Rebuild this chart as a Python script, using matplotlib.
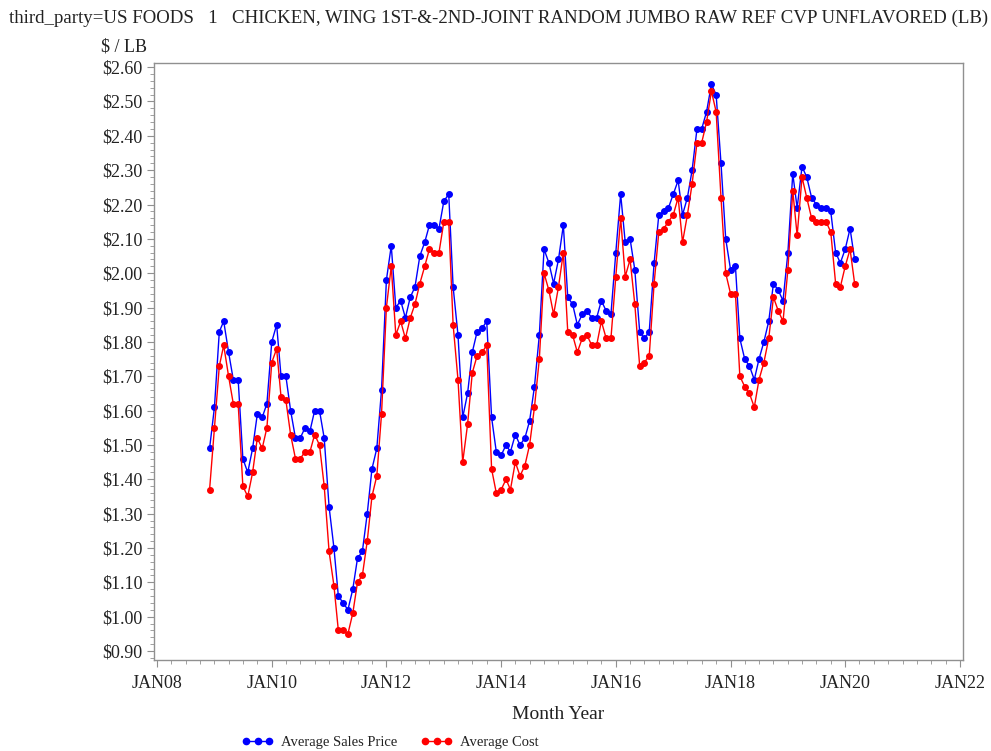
import numpy as np
import pandas as pd
import matplotlib
matplotlib.use('Agg')
import matplotlib.pyplot as plt
import matplotlib.dates as mdates
from matplotlib.ticker import FuncFormatter, MultipleLocator
from matplotlib.lines import Line2D

# monthly data, Dec 2008 - Mar 2020
months = pd.date_range('2008-12-01', '2020-03-01', freq='MS')

sales_price = [
    1.49,
    1.61, 1.83, 1.86, 1.77, 1.69, 1.69, 1.46, 1.42, 1.49, 1.59, 1.58, 1.62,
    1.80, 1.85, 1.70, 1.70, 1.60, 1.52, 1.52, 1.55, 1.54, 1.60, 1.60, 1.52,
    1.32, 1.20, 1.06, 1.04, 1.02, 1.08, 1.17, 1.19, 1.30, 1.43, 1.49, 1.66,
    1.98, 2.08, 1.90, 1.92, 1.87, 1.93, 1.96, 2.05, 2.09, 2.14, 2.14, 2.13,
    2.21, 2.23, 1.96, 1.82, 1.58, 1.65, 1.77, 1.83, 1.84, 1.86, 1.58, 1.48,
    1.47, 1.50, 1.48, 1.53, 1.50, 1.52, 1.57, 1.67, 1.82, 2.07, 2.03, 1.97,
    2.04, 2.14, 1.93, 1.91, 1.85, 1.88, 1.89, 1.87, 1.87, 1.92, 1.89, 1.88,
    2.06, 2.23, 2.09, 2.10, 2.01, 1.83, 1.81, 1.83, 2.03, 2.17, 2.18, 2.19,
    2.23, 2.27, 2.17, 2.22, 2.30, 2.42, 2.42, 2.47, 2.55, 2.52, 2.32, 2.10,
    2.01, 2.02, 1.81, 1.75, 1.73, 1.69, 1.75, 1.80, 1.86, 1.97, 1.95, 1.92,
    2.06, 2.29, 2.19, 2.31, 2.28, 2.22, 2.20, 2.19, 2.19, 2.18, 2.06, 2.03,
    2.07, 2.13, 2.04,
]

avg_cost = [
    1.37,
    1.55, 1.73, 1.79, 1.70, 1.62, 1.62, 1.38, 1.35, 1.42, 1.52, 1.49, 1.55,
    1.74, 1.78, 1.64, 1.63, 1.53, 1.46, 1.46, 1.48, 1.48, 1.53, 1.50, 1.38,
    1.19, 1.09, 0.96, 0.96, 0.95, 1.01, 1.10, 1.12, 1.22, 1.35, 1.41, 1.59,
    1.90, 2.02, 1.82, 1.86, 1.81, 1.87, 1.91, 1.97, 2.02, 2.07, 2.06, 2.06,
    2.15, 2.15, 1.85, 1.69, 1.45, 1.56, 1.71, 1.76, 1.77, 1.79, 1.43, 1.36,
    1.37, 1.40, 1.37, 1.45, 1.41, 1.44, 1.50, 1.61, 1.75, 2.00, 1.95, 1.88,
    1.96, 2.06, 1.83, 1.82, 1.77, 1.81, 1.82, 1.79, 1.79, 1.86, 1.81, 1.81,
    1.99, 2.16, 1.99, 2.04, 1.91, 1.73, 1.74, 1.76, 1.97, 2.12, 2.13, 2.15,
    2.17, 2.22, 2.09, 2.17, 2.26, 2.38, 2.38, 2.44, 2.53, 2.47, 2.22, 2.00,
    1.94, 1.94, 1.70, 1.67, 1.65, 1.61, 1.69, 1.74, 1.81, 1.93, 1.89, 1.86,
    2.01, 2.24, 2.11, 2.28, 2.22, 2.16, 2.15, 2.15, 2.15, 2.12, 1.97, 1.96,
    2.02, 2.07, 1.97,
]

title_text = ('third_party=US FOODS   1   CHICKEN, WING 1ST-&-2ND-JOINT RANDOM '
              'JUMBO RAW REF CVP UNFLAVORED (LB)')

plt.rcParams['font.family'] = ['Liberation Serif', 'DejaVu Serif']

blue = '#0000ff'
red = '#ff0000'

fig = plt.figure(figsize=(9.91, 7.51), dpi=100)
ax = fig.add_axes([0.1554, 0.1212, 0.8160, 0.7949])

ax.plot(months, sales_price, '-o', color=blue, lw=1, ms=4, mec=blue)
ax.plot(months, avg_cost, '-o', color=red, lw=1, ms=4, mec=red)

ax.set_xlim(pd.Timestamp('2007-12-13'), pd.Timestamp('2022-01-18'))
ax.set_ylim(0.874, 2.612)

ax.xaxis.set_major_locator(mdates.YearLocator(2))
ax.xaxis.set_major_formatter(FuncFormatter(
    lambda x, pos: mdates.num2date(x).strftime('%b%y').upper()))
ax.xaxis.set_minor_locator(mdates.MonthLocator(bymonth=[1, 4, 7, 10]))
ax.yaxis.set_major_locator(MultipleLocator(0.1))
ax.yaxis.set_minor_locator(MultipleLocator(0.02))
ax.yaxis.set_major_formatter(FuncFormatter(lambda y, pos: '${:.2f}'.format(y)))

for s in ax.spines.values():
    s.set_color('#909090')
    s.set_linewidth(1)
ax.tick_params(which='major', length=5, color='#909090', labelsize=13,
               labelcolor='#222222')
ax.tick_params(which='minor', length=3, color='#909090')
ax.tick_params(axis='x', pad=6)

ax.set_xlabel('Month Year', fontsize=14, color='#222222', labelpad=10)

fig.text(0.009, 0.975, title_text, fontsize=13.6, color='#222222',
         ha='left', va='center')
fig.text(147 / 991, 1 - 47 / 751, '$ / LB', fontsize=13, color='#222222',
         ha='right', va='center')

handles = [Line2D([], [], color=blue, marker='o', lw=1, ms=4.5),
           Line2D([], [], color=red, marker='o', lw=1, ms=4.5)]
fig.legend(handles, ['Average Sales Price', 'Average Cost'], ncol=2,
           loc='center', bbox_to_anchor=(390 / 991, 1 - 742 / 751),
           frameon=False, numpoints=3, handlelength=2.2, handletextpad=0.5,
           columnspacing=1.6, fontsize=10.5, labelcolor='#222222')

fig.savefig('out.png', dpi=100)
